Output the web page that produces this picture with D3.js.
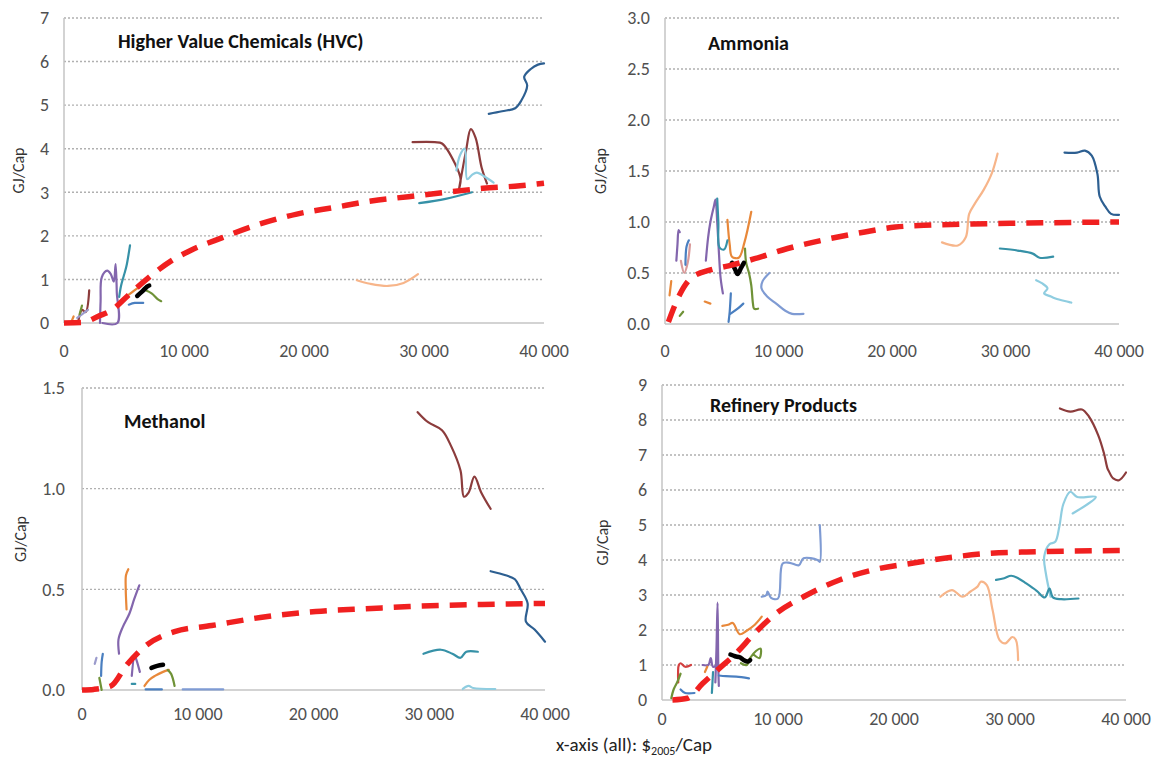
<!DOCTYPE html>
<html>
<head>
<meta charset="utf-8">
<script src="https://cdn.jsdelivr.net/npm/d3@7"></script>
<style>
  body { margin: 0; background: #fff; }
  svg { display: block; font-family: Carlito, Calibri, Lato, sans-serif; }
  .tick-label { fill: #505050; font-size: 18px; }
  .panel-title { font-weight: bold; font-size: 20px; fill: #111; }
  .y-title { font-size: 16px; fill: #333; }
</style>
</head>
<body>
<div id="chart"></div>
<script>
"use strict";

// x axis is shared by all four panels
var xTicks = [0, 10000, 20000, 30000, 40000];

// y ticks per panel
var hvcTicks = [0, 1, 2, 3, 4, 5, 6, 7];
var ammoniaTicks = [0, 0.5, 1, 1.5, 2, 2.5, 3];
var methanolTicks = [0, 0.5, 1, 1.5];
var refineryTicks = [0, 1, 2, 3, 4, 5, 6, 7, 8, 9];

// fitted (red dashed) curves, [$/cap, GJ/cap]
var hvcTrend = [[0,0],[1500,0.01],[2900,0.16],[4000,0.3],[5300,0.62],[7000,1.03],[8900,1.42],[10500,1.66],[13200,1.96],[16300,2.27],[19400,2.5],[22500,2.65],[25600,2.8],[28700,2.9],[31800,3.0],[34900,3.09],[38000,3.15],[40000,3.21]];
var ammoniaTrend = [[300,0.02],[1300,0.29],[2300,0.45],[4000,0.53],[5600,0.57],[7900,0.64],[10800,0.74],[13800,0.82],[17000,0.89],[20300,0.95],[23500,0.97],[27000,0.98],[32000,0.99],[40000,1.0]];
var methanolTrend = [[0,0],[1000,0.003],[2500,0.02],[3800,0.12],[5400,0.215],[8000,0.29],[11200,0.32],[15400,0.36],[20200,0.39],[25000,0.405],[28300,0.415],[34600,0.425],[40000,0.43]];
var refineryTrend = [[900,0],[2200,0.05],[3500,0.47],[4800,0.86],[6400,1.34],[8000,1.91],[9900,2.49],[12200,2.95],[15300,3.43],[18500,3.74],[21800,3.92],[25000,4.08],[28200,4.19],[31400,4.23],[34600,4.25],[40000,4.27]];

// country trajectories: [series id, points]
var hvcPaths = [
  ["A", [[35400,4.8],[36500,4.86],[37600,4.93],[38100,5.1],[38600,5.45],[38350,5.65],[38900,5.83],[39500,5.93],[40000,5.96]]],
  ["B", [[29050,4.15],[30900,4.15],[31500,4.12],[32600,3.65],[33050,3.3],[32900,3.05],[33500,3.95],[33900,4.45],[34300,4.25],[34800,3.57],[35250,3.2]]],
  ["C", [[32700,3.5],[33000,3.85],[33400,4.0],[33600,3.3],[34000,3.4],[34400,3.45],[35100,3.35],[35800,3.22]]],
  ["D", [[29600,2.75],[31800,2.85],[34000,3.0]]],
  ["E", [[24400,0.98],[25500,0.9],[27000,0.85],[28300,0.92],[29500,1.12]]],
  ["H", [[3000,0.0],[3050,0.5],[3150,1.05],[3600,1.2],[3900,1.12],[4150,0.95],[4300,1.35],[4400,0.7],[4450,0.0],[3200,0.0]]],
  ["D", [[4600,0.6],[4750,0.85],[5000,1.1],[5200,1.3],[5500,1.78]]],
  ["B", [[1200,0.05],[1500,0.3],[1800,0.25],[2100,0.75]]],
  ["G", [[5400,0.65],[6200,0.82],[7000,1.0]]],
  ["G", [[600,0.02],[800,0.15]]],
  ["K", [[5400,0.42],[5900,0.46],[6600,0.46]]],
  ["I", [[6800,0.75],[7300,0.68],[7800,0.55],[8100,0.5]]],
  ["N", [[1100,0.12],[1500,0.2],[2000,0.3]]],
  ["I", [[1300,0.2],[1500,0.4]]],
  ["J", [[6100,0.62],[6500,0.72],[6900,0.83],[7100,0.86]]]
];

var ammoniaPaths = [
  ["A", [[35200,1.68],[36300,1.68],[37000,1.7],[37600,1.65],[38100,1.47],[38300,1.25],[38800,1.15],[39300,1.08],[40000,1.07]]],
  ["E", [[24400,0.8],[25800,0.77],[26500,0.85],[26800,1.08],[27300,1.18],[28100,1.32],[28800,1.48],[29300,1.67]]],
  ["D", [[29500,0.74],[31100,0.72],[32400,0.69],[33000,0.65],[34200,0.66]]],
  ["C", [[32700,0.43],[33200,0.4],[33700,0.35],[33400,0.3],[34000,0.27],[34400,0.25],[35800,0.21]]],
  ["F", [[9200,0.5],[8600,0.42],[8500,0.35],[9000,0.27],[9800,0.2],[10600,0.13],[11200,0.1],[12200,0.1]]],
  ["I", [[7050,0.74],[7150,0.6],[7400,0.5],[7600,0.38],[7750,0.2],[7850,0.15],[8200,0.15]]],
  ["G", [[5500,1.02],[5700,0.78],[5900,0.66],[6500,0.65],[7000,0.8],[7600,1.1]]],
  ["H", [[3600,0.62],[3800,0.85],[4000,1.0],[4300,1.15],[4450,1.22],[4600,1.0],[4750,0.7],[4900,0.45],[5100,0.3]]],
  ["H", [[1000,0.62],[1100,0.78],[1200,0.92],[1300,0.9]]],
  ["L", [[1400,0.62],[1700,0.5],[2000,0.6],[2200,0.78]]],
  ["D", [[4600,1.23],[4700,1.0],[4800,0.75],[5200,0.73],[5500,0.82]]],
  ["K", [[5800,0.3],[5700,0.12],[5600,0.02]]],
  ["K", [[5750,0.1],[6400,0.15],[6900,0.2]]],
  ["K", [[1800,0.58],[1900,0.76],[2100,0.82]]],
  ["G", [[400,0.28],[550,0.42]]],
  ["G", [[3500,0.22],[4000,0.2]]],
  ["I", [[1300,0.08],[1600,0.12]]],
  ["J", [[5900,0.6],[6200,0.53],[6400,0.49],[6700,0.55],[6950,0.6]]]
];

var methanolPaths = [
  ["B", [[29000,1.38],[29900,1.33],[31100,1.29],[31900,1.21],[32700,1.09],[33000,0.96],[33400,0.98],[33900,1.06],[34500,0.98],[35300,0.9]]],
  ["A", [[35300,0.59],[36600,0.57],[37400,0.55],[37900,0.5],[38500,0.43],[38350,0.34],[39100,0.3],[40000,0.24]]],
  ["D", [[29500,0.18],[31000,0.2],[32000,0.18],[32700,0.16],[33200,0.19],[34200,0.19]]],
  ["C", [[32900,0.005],[33400,0.02],[33800,0.01],[35700,0.005]]],
  ["F", [[8700,0.003],[12200,0.003]]],
  ["K", [[5500,0.003],[6900,0.003]]],
  ["G", [[5400,0.02],[5800,0.05],[6300,0.07],[7000,0.09],[7500,0.1]]],
  ["I", [[7400,0.1],[7700,0.08],[8000,0.02]]],
  ["H", [[3200,0.18],[3150,0.25],[3500,0.31],[4100,0.38],[4500,0.45],[4950,0.52]]],
  ["H", [[4300,0.07],[4550,0.17],[4700,0.15],[5000,0.09]]],
  ["G", [[3850,0.4],[3780,0.5],[3800,0.57],[4000,0.6]]],
  ["N", [[1100,0.13],[1250,0.16]]],
  ["K", [[1650,0.07],[1700,0.14],[1800,0.18]]],
  ["I", [[1500,0.06],[1700,0.0]]],
  ["D", [[4300,0.03],[4600,0.03]]],
  ["J", [[6000,0.11],[6500,0.12],[7000,0.125]]]
];

var refineryPaths = [
  ["B", [[34300,8.33],[35200,8.24],[36200,8.3],[36800,8.1],[37600,7.57],[38100,7.05],[38400,6.62],[38500,6.55],[38900,6.33],[39400,6.28],[40000,6.5]]],
  ["C", [[33500,2.95],[33100,3.6],[32950,4.1],[33400,4.45],[33900,4.52],[34250,4.95],[34600,5.6],[35200,5.95],[35800,5.8],[37400,5.8],[35400,5.33]]],
  ["D", [[28800,3.43],[29500,3.48],[30100,3.55],[30700,3.48],[31400,3.33],[32300,3.12],[33000,2.93],[33400,3.18],[33700,2.93],[34400,2.88],[35900,2.9]]],
  ["E", [[24000,2.95],[25000,3.14],[25900,2.95],[26600,3.1],[27200,3.24],[27500,3.38],[28000,3.28],[28500,2.57],[29100,1.71],[29600,1.62],[30200,1.8],[30500,1.72],[30700,1.14]]],
  ["F", [[8600,2.95],[9000,3.0],[9100,3.1],[9400,2.92],[10000,2.9],[10400,3.9],[11000,3.92],[11800,3.85],[12200,4.05],[13400,4.0],[13600,3.95],[13600,5.0]]],
  ["G", [[5200,2.12],[5700,2.15],[6100,2.2],[6700,1.88],[7300,1.98],[8000,2.15],[8600,2.38]]],
  ["H", [[4600,0.5],[4700,1.5],[4790,2.78],[4850,1.0],[4900,0.4]]],
  ["H", [[3500,1.0],[4000,1.0],[4200,1.2],[4400,0.95],[4800,1.0]]],
  ["I", [[6800,1.05],[7300,1.0],[7600,1.2],[8100,1.4],[8500,1.47],[8400,1.2],[7900,1.3]]],
  ["K", [[4900,0.7],[5500,0.68],[6400,0.67],[7500,0.62]]],
  ["D", [[4300,0.2],[4400,0.8]]],
  ["M", [[1400,0.5],[1450,1.0],[1600,1.05],[2000,0.95],[2500,1.0]]],
  ["I", [[800,0.05],[1000,0.3],[1300,0.5],[1600,0.75]]],
  ["K", [[1600,0.3],[2000,0.2],[2800,0.2]]],
  ["G", [[3700,0.8],[3900,0.95]]],
  ["J", [[5900,1.3],[6300,1.25],[6700,1.22],[7000,1.15],[7400,1.1],[7600,1.14]]]
];

// colours per series id
var colorOf = {
  A: "#2d5f91", B: "#8c3c3c", C: "#8fcde0", D: "#3691a7", E: "#f7b58a",
  F: "#7f9bd3", G: "#e8883a", H: "#8366ad", I: "#6f9237", J: "#000000",
  K: "#4a7fc0", L: "#d99a9a", M: "#d34040", N: "#9b9bcc"
};

var fmtX = function(d) { return d3.format(",")(d).replace(",", " "); };

var panels = [
  {title: "Higher Value Chemicals (HVC)", paths: hvcPaths, trend: hvcTrend, ticks: hvcTicks, ymax: 7, fmt: d3.format("d"),
   left: 64, right: 544, top: 18, bottom: 323, titleX: 118, titleY: 48, yTitleX: 24, xLabY: 357, yLabX: 49},
  {title: "Ammonia", paths: ammoniaPaths, trend: ammoniaTrend, ticks: ammoniaTicks, ymax: 3, fmt: d3.format(".1f"),
   left: 665, right: 1119, top: 18, bottom: 324, titleX: 708, titleY: 50, yTitleX: 606, xLabY: 357, yLabX: 650},
  {title: "Methanol", paths: methanolPaths, trend: methanolTrend, ticks: methanolTicks, ymax: 1.5, fmt: d3.format(".1f"),
   left: 82, right: 545, top: 388, bottom: 690, titleX: 124, titleY: 428, yTitleX: 26, xLabY: 720, yLabX: 65},
  {title: "Refinery Products", paths: refineryPaths, trend: refineryTrend, ticks: refineryTicks, ymax: 9, fmt: d3.format("d"),
   left: 662, right: 1126, top: 385, bottom: 700, titleX: 710, titleY: 412, yTitleX: 608, xLabY: 725, yLabX: 647}
];

var svg = d3.select("#chart").append("svg")
    .attr("width", 1159)
    .attr("height", 758);

panels.forEach(function(p) {
    var x = d3.scaleLinear().domain([0, 40000]).range([p.left, p.right]);
    var y = d3.scaleLinear().domain([0, p.ymax]).range([p.bottom, p.top]);
    var g = svg.append("g");

    // dotted grid
    g.selectAll(".grid")
        .data(p.ticks.filter(function(t) { return t > 0; }))
      .enter().append("line")
        .attr("x1", p.left).attr("x2", p.right)
        .attr("y1", function(d) { return y(d); })
        .attr("y2", function(d) { return y(d); })
        .attr("stroke", "#b0b0b0")
        .attr("stroke-width", 1.4)
        .attr("stroke-dasharray", "2,2");

    // axis lines
    g.append("line")
        .attr("x1", p.left).attr("x2", p.left)
        .attr("y1", p.top).attr("y2", p.bottom)
        .attr("stroke", "#c4c4c4").attr("stroke-width", 1.5);
    g.append("line")
        .attr("x1", p.left).attr("x2", p.right)
        .attr("y1", p.bottom).attr("y2", p.bottom)
        .attr("stroke", "#c4c4c4").attr("stroke-width", 1.5);

    // tick labels
    g.selectAll(".ylab")
        .data(p.ticks)
      .enter().append("text")
        .attr("class", "tick-label")
        .attr("x", p.yLabX)
        .attr("y", function(d) { return y(d); })
        .attr("dy", "0.35em")
        .attr("text-anchor", "end")
        .text(p.fmt);

    g.selectAll(".xlab")
        .data(xTicks)
      .enter().append("text")
        .attr("class", "tick-label")
        .attr("x", function(d) { return x(d); })
        .attr("y", p.xLabY)
        .attr("text-anchor", "middle")
        .text(fmtX);

    var line = d3.line()
        .x(function(d) { return x(d[0]); })
        .y(function(d) { return y(d[1]); })
        .curve(d3.curveCatmullRom.alpha(0.5));

    // country trajectories
    g.selectAll(".traj")
        .data(p.paths)
      .enter().append("path")
        .attr("d", function(d) { return line(d[1]); })
        .attr("fill", "none")
        .attr("stroke", function(d) { return colorOf[d[0]]; })
        .attr("stroke-width", function(d) { return d[0] == "J" ? 4.5 : 2.2; })
        .attr("stroke-linejoin", "round")
        .attr("stroke-linecap", "round");

    // fitted curve
    g.append("path")
        .attr("d", line.curve(d3.curveMonotoneX)(p.trend))
        .attr("fill", "none")
        .attr("stroke", "#f02020")
        .attr("stroke-width", 5.5)
        .attr("stroke-dasharray", "17,11");

    g.append("text")
        .attr("class", "panel-title")
        .attr("x", p.titleX)
        .attr("y", p.titleY)
        .text(p.title);

    g.append("text")
        .attr("class", "y-title")
        .attr("transform", "translate(" + p.yTitleX + "," + ((p.top + p.bottom) / 2) + ") rotate(-90)")
        .attr("text-anchor", "middle")
        .text("GJ/Cap");
});

// shared x title
var xt = svg.append("text")
    .attr("x", 634)
    .attr("y", 751)
    .attr("text-anchor", "middle")
    .attr("font-size", 19)
    .attr("fill", "#222");
xt.append("tspan").text("x-axis (all): $");
xt.append("tspan").attr("font-size", 12).attr("dy", 4).text("2005");
xt.append("tspan").attr("dy", -4).text("/Cap");
</script>
</body>
</html>
